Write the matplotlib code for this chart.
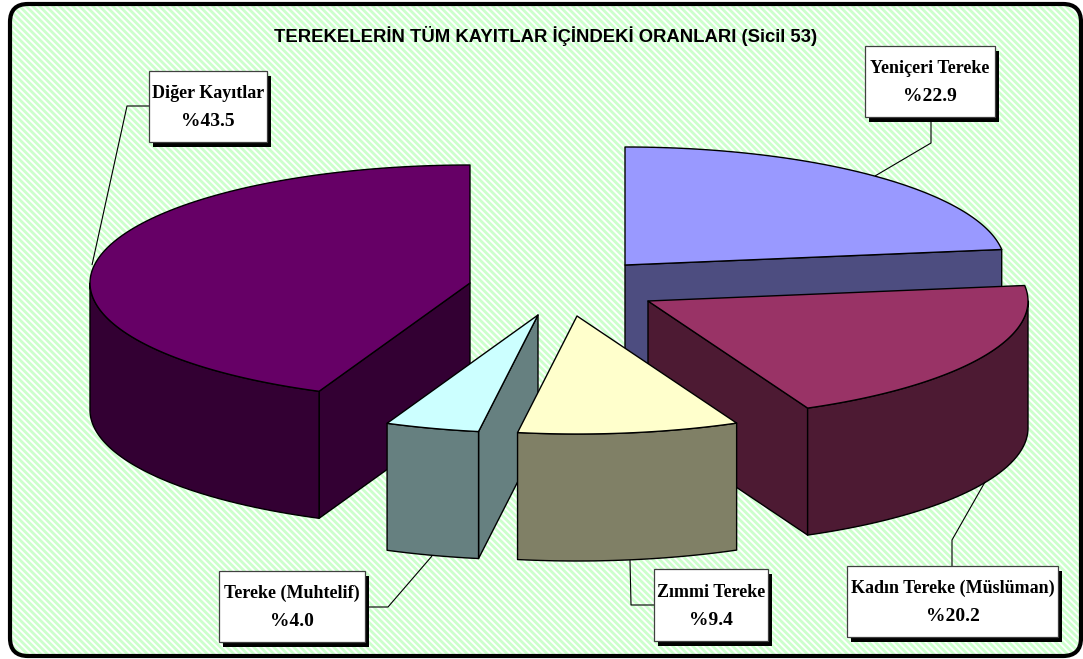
import numpy as np
import matplotlib
matplotlib.use('Agg')
import matplotlib.pyplot as plt
from matplotlib.patches import FancyBboxPatch, Polygon, Rectangle

plt.rcParams['hatch.linewidth'] = 2.0

title = 'TEREKELERİN TÜM KAYITLAR İÇİNDEKİ ORANLARI (Sicil 53)'
names = ['Diğer Kayıtlar', 'Tereke (Muhtelif)', 'Zımmi Tereke', 'Kadın Tereke (Müslüman)', 'Yeniçeri Tereke']
shares = [43.5, 4.0, 9.4, 20.2, 22.9]
top_colors = ['#660066', '#CCFFFF', '#FFFFCC', '#993366', '#9999FF']
side_colors = ['#330033', '#668080', '#808066', '#4D1A33', '#4D4D80']

# slice apex in pixels, pie was exploded by hand in the original
apex_x = [470, 538, 577, 648, 625]
apex_y = [283, 315, 316, 301, 265]
rx, ry, depth = 380, 118, 127

# label boxes: left, top, right, bottom
boxes = [(149, 71, 267, 142), (219, 571, 365, 642), (654, 569, 768, 641), (847, 566, 1058, 637), (865, 46, 995, 117)]
leaders = [[(149, 106), (127, 106), (92, 265)],
           [(365, 607), (388, 607), (432, 556)],
           [(654, 605), (631, 605), (630, 560)],
           [(952, 566), (952, 540), (985, 482)],
           [(931, 117), (931, 143), (875, 176)]]

fig = plt.figure(figsize=(10.83, 6.59), dpi=100)
ax = fig.add_axes([0, 0, 1, 1])
ax.set_xlim(0, 1083)
ax.set_ylim(659, 0)
ax.axis('off')

ax.add_patch(FancyBboxPatch((24, 18), 1043, 624, boxstyle='round,pad=14,rounding_size=18',
                            fc='white', ec='#CCFFCC', hatch='\\\\\\\\\\', lw=0, zorder=1))
ax.add_patch(FancyBboxPatch((24, 18), 1043, 624, boxstyle='round,pad=14,rounding_size=18',
                            fc='none', ec='black', lw=3, zorder=1.5))

cum = np.cumsum([0] + shares)
start = 90 + cum[:-1] * 3.6
end = 90 + cum[1:] * 3.6


def rim(i, a):
    a = np.radians(a)
    return apex_x[i] + rx * np.cos(a), apex_y[i] - ry * np.sin(a)


def shaded(pts, color, z):
    ax.add_patch(Polygon(pts, closed=True, fc=color, ec='black', lw=1.0, joinstyle='round', zorder=z))


def draw_slice(i, z):
    cx, cy = apex_x[i], apex_y[i]
    a0, a1 = start[i], end[i]
    # cut faces, only the ones looking at the viewer
    for a, visible in [(a0, 270 < a0 % 360 or a0 % 360 < 90 and a0 > 360),
                       (a1, 180 < a1 % 360 < 270 or a1 % 360 < 90 and a1 > 360)]:
        if visible and not (i == 3 and a == a1):
            x, y = rim(i, a)
            shaded([(cx, cy), (x, y), (x, y + depth), (cx, cy + depth)], side_colors[i], z)
    # outer wall, front half of the ellipse
    lo, hi = max(a0, 180), min(a1, 360)
    if hi > lo:
        t = np.linspace(lo, hi, 80)
        up = [rim(i, a) for a in t]
        down = [(x, y + depth) for x, y in reversed(up)]
        shaded(up + down, side_colors[i], z + 0.1)
    t = np.linspace(a0, a1, 120)
    shaded([(cx, cy)] + [rim(i, a) for a in t], top_colors[i], z + 0.2)


for z, i in enumerate([4, 0, 3, 1, 2]):
    draw_slice(i, 2 + z)

ax.text(545.5, 36, title, ha='center', va='center', fontsize=13.3, weight='bold',
        family='Liberation Sans', zorder=10)

for i in range(len(names)):
    x0, y0, x1, y1 = boxes[i]
    xs, ys = zip(*leaders[i])
    ax.plot(xs, ys, color='black', lw=0.8, zorder=8, solid_capstyle='butt')
    ax.add_patch(Rectangle((x0 + 4, y0 + 5), x1 - x0, y1 - y0, fc='black', ec='black', lw=0, zorder=9))
    ax.add_patch(Rectangle((x0, y0), x1 - x0, y1 - y0, fc='white', ec='#404040', lw=0.9, zorder=10))
    mid = (x0 + x1) / 2
    h = y1 - y0
    ax.text(mid, y0 + h * 0.32, names[i], ha='center', va='center', fontsize=13,
            family='Liberation Serif', weight='bold', zorder=11)
    ax.text(mid, y0 + h * 0.71, '%' + format(shares[i], '.1f'), ha='center', va='center', fontsize=14,
            family='Liberation Serif', weight='bold', zorder=11)

fig.savefig('out.png', dpi=100)
